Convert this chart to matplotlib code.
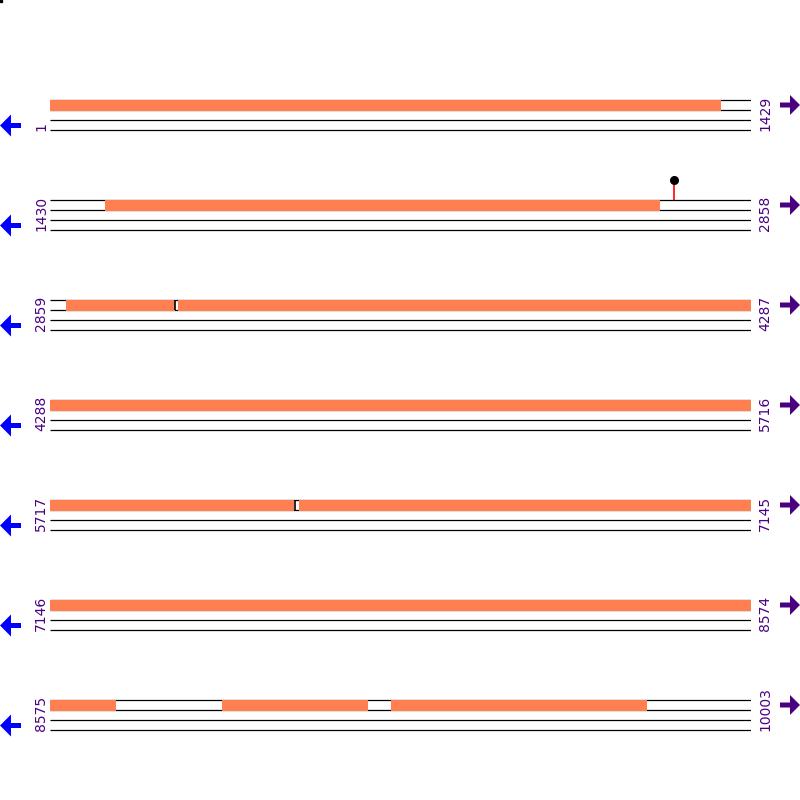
import matplotlib
matplotlib.use("Agg")
import matplotlib.pyplot as plt
from matplotlib.patches import FancyArrow

# sequence layout
seq_len = 10003
row_len = 1429
n_rows = 7

# orange features (bp, inclusive)
feat_start = [1, 1542, 2892, 3120, 6224, 8926, 9270]
feat_end = [1368, 2673, 3112, 6214, 8709, 9223, 9790]

# black gap marks between adjacent features
gap_pos = [3113, 6215]

# lollipop site
site_pos = [2702]

orange = "#FF7F50"
indigo = "#4B0082"
blue = "#0000FF"

W, H = 800, 800
fig = plt.figure(figsize=(8, 8), dpi=100)

# overlay in pixel units for labels and arrows
ov = fig.add_axes([0, 0, 1, 1])
ov.set_xlim(0, W)
ov.set_ylim(H, 0)
ov.axis("off")

x0, x1 = 50, 751
for i in range(n_rows):
    rs = 1 + i * row_len
    re = min(rs + row_len - 1, seq_len)
    top = 100 + 100 * i

    ax = fig.add_axes([x0 / W, 1 - (top + 40) / H, (x1 - x0) / W, 70 / H])
    ax.set_xlim(rs - 0.5, rs + row_len - 0.5)
    ax.set_ylim(40, -30)
    ax.axis("off")

    ax.hlines([0, 10, 20, 30], rs - 0.5, re + 0.5, color="black", lw=0.9, zorder=1)

    for s, e in zip(feat_start, feat_end):
        a, b = max(s, rs), min(e, re)
        if a <= b:
            ax.bar(a - 0.5, 10.5, width=b - a + 1, bottom=0, align="edge",
                   color=orange, lw=0, zorder=2)
    for g in gap_pos:
        if rs <= g <= re:
            ax.vlines(g, 0, 10, color="black", lw=1.2, zorder=3)
    for p in site_pos:
        if rs <= p <= re:
            ax.vlines(p, -20, 0, color="red", lw=1.2, zorder=3)
            ax.plot([p], [-20], "o", color="black", ms=5.5, zorder=4)

    ov.text(41, top + 31, str(rs), rotation=90, ha="center", va="bottom",
            color=indigo, fontsize=10, family="DejaVu Sans")
    ov.text(765, top + 31, str(re), rotation=90, ha="center", va="bottom",
            color=indigo, fontsize=10, family="DejaVu Sans")

    ov.add_patch(FancyArrow(21, top + 25.5, -21, 0, width=5, head_width=22,
                            head_length=11, length_includes_head=True,
                            color=blue, lw=0))
    ov.add_patch(FancyArrow(780, top + 5, 20, 0, width=5, head_width=20,
                            head_length=10, length_includes_head=True,
                            color=indigo, lw=0))

ov.plot([1], [1], "s", color="black", ms=2)

fig.savefig("out.png", dpi=100)
